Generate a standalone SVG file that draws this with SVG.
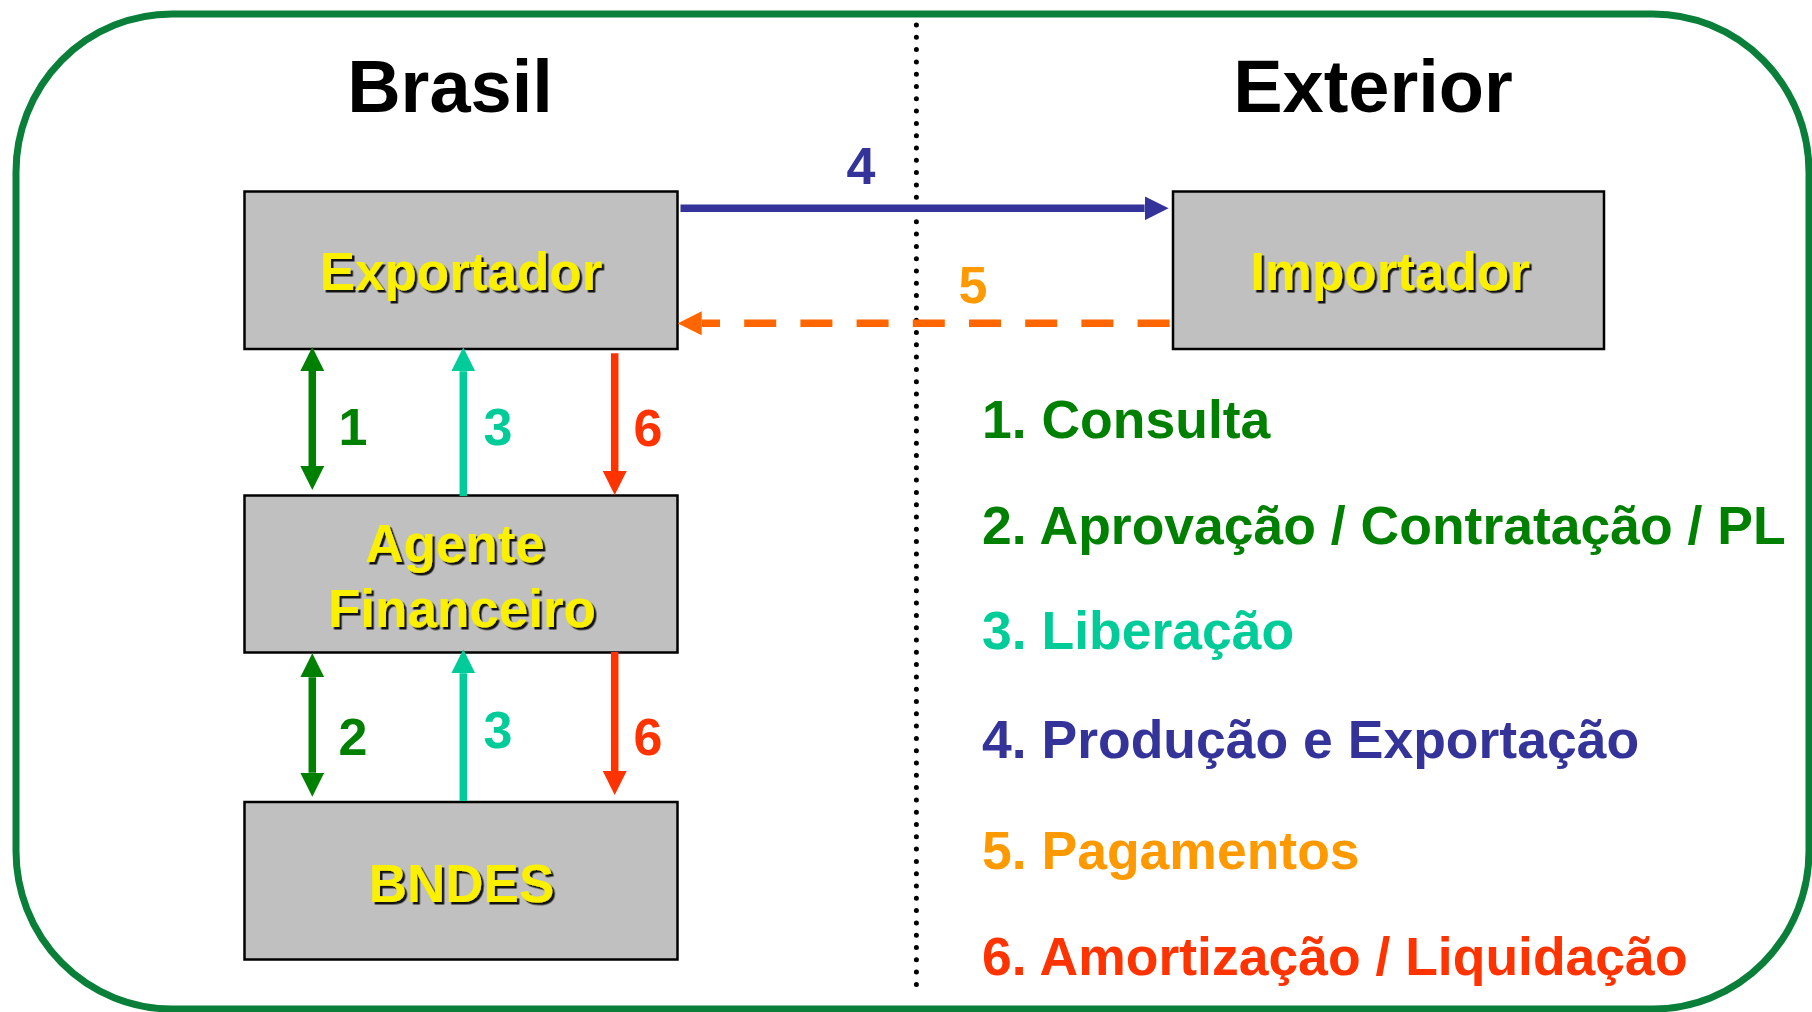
<svg xmlns="http://www.w3.org/2000/svg" width="1812" height="1012" viewBox="0 0 1812 1012">
<style>
.box{fill:#C0C0C0;stroke:#000;stroke-width:2.5}
.nt{font-family:"Liberation Sans",Arial,sans-serif;font-weight:bold;font-size:53px;fill:#FAF000;text-anchor:middle;filter:url(#sh)}
.hd{font-family:"Liberation Sans",Arial,sans-serif;font-weight:bold;font-size:74px;fill:#000;text-anchor:middle}
.lb{font-family:"Liberation Sans",Arial,sans-serif;font-weight:bold;font-size:52px;text-anchor:middle}
.lg{font-family:"Liberation Sans",Arial,sans-serif;font-weight:bold;font-size:53.5px}
.ln{fill:none;stroke-width:7.5}
</style>
<defs>
<filter id="sh" x="-10%" y="-20%" width="130%" height="150%">
<feDropShadow dx="2.5" dy="2.5" stdDeviation="0.7" flood-color="#000" flood-opacity="0.9"/>
</filter>
<marker id="mG" markerUnits="userSpaceOnUse" markerWidth="24" markerHeight="24" refX="0" refY="12" orient="auto-start-reverse"><path d="M0,0 L24,12 L0,24 Z" fill="#008000"/></marker>
<marker id="mT" markerUnits="userSpaceOnUse" markerWidth="24" markerHeight="24" refX="0" refY="12" orient="auto-start-reverse"><path d="M0,0 L24,12 L0,24 Z" fill="#00CC99"/></marker>
<marker id="mR" markerUnits="userSpaceOnUse" markerWidth="24" markerHeight="24" refX="0" refY="12" orient="auto-start-reverse"><path d="M0,0 L24,12 L0,24 Z" fill="#FF3300"/></marker>
<marker id="mB" markerUnits="userSpaceOnUse" markerWidth="24" markerHeight="24" refX="0" refY="12" orient="auto-start-reverse"><path d="M0,0 L24,12 L0,24 Z" fill="#333399"/></marker>
<marker id="mO" markerUnits="userSpaceOnUse" markerWidth="24" markerHeight="24" refX="0" refY="12" orient="auto-start-reverse"><path d="M0,0 L24,12 L0,24 Z" fill="#FF6600"/></marker>
</defs>
<rect width="1812" height="1012" fill="#fff"/>
<rect id="frame" x="16" y="14" width="1793" height="995" rx="156" ry="158" fill="none" stroke="#0A7F3A" stroke-width="7"/>
<line id="divider" x1="916.4" y1="25" x2="916.4" y2="990" stroke="#000" stroke-width="5" stroke-linecap="round" stroke-dasharray="0 12.3"/>
<text class="hd" x="450" y="112">Brasil</text>
<text class="hd" x="1373" y="112">Exterior</text>

<g id="exportador">
<rect class="box" x="244.5" y="191.5" width="433" height="157.5"/>
<text class="nt" x="461" y="290">Exportador</text>
</g>
<g id="importador">
<rect class="box" x="1173" y="191.5" width="431" height="157.5"/>
<text class="nt" x="1390" y="290">Importador</text>
</g>
<g id="agente">
<rect class="box" x="244.5" y="495.5" width="433" height="157"/>
<text class="nt" x="455" y="561.5">Agente</text>
<text class="nt" x="462" y="626.5">Financeiro</text>
</g>
<g id="bndes">
<rect class="box" x="244.5" y="802" width="433" height="157.5"/>
<text class="nt" x="461.5" y="901.5">BNDES</text>
</g>

<g id="connectors">
<line class="ln" stroke="#008000" x1="312.3" y1="371" x2="312.3" y2="466" marker-start="url(#mG)" marker-end="url(#mG)"/>
<line class="ln" stroke="#00CC99" x1="463.3" y1="496" x2="463.3" y2="371.3" marker-end="url(#mT)"/>
<line class="ln" stroke="#FF3300" x1="614.7" y1="353.3" x2="614.7" y2="471" marker-end="url(#mR)"/>
<line class="ln" stroke="#008000" x1="312.3" y1="677.3" x2="312.3" y2="772.7" marker-start="url(#mG)" marker-end="url(#mG)"/>
<line class="ln" stroke="#00CC99" x1="463.3" y1="801" x2="463.3" y2="673.3" marker-end="url(#mT)"/>
<line class="ln" stroke="#FF3300" x1="614.7" y1="652" x2="614.7" y2="771" marker-end="url(#mR)"/>
<line class="ln" stroke="#333399" x1="680.5" y1="208.3" x2="1144.6" y2="208.3" marker-end="url(#mB)"/>
<line class="ln" stroke="#FF6600" stroke-dasharray="32 24.2" x1="1169.6" y1="323.3" x2="701.7" y2="323.3" marker-end="url(#mO)"/>
<text class="lb" x="353" y="445" fill="#008000">1</text>
<text class="lb" x="498" y="445" fill="#00CC99">3</text>
<text class="lb" x="648" y="446" fill="#FF3300">6</text>
<text class="lb" x="353" y="755" fill="#008000">2</text>
<text class="lb" x="498" y="748" fill="#00CC99">3</text>
<text class="lb" x="648" y="755" fill="#FF3300">6</text>
<text class="lb" x="861" y="184" fill="#333399">4</text>
<text class="lb" x="973" y="303" fill="#FF9900">5</text>
</g>

<g id="legend">
<text class="lg" x="982" y="438" fill="#008000">1. Consulta</text>
<text class="lg" x="982" y="544" fill="#008000">2. Aprovação / Contratação / PL</text>
<text class="lg" x="982" y="649" fill="#00CC99">3. Liberação</text>
<text class="lg" x="982" y="758" fill="#333399">4. Produção e Exportação</text>
<text class="lg" x="982" y="869" fill="#FF9900">5. Pagamentos</text>
<text class="lg" x="982" y="975" fill="#FF3300">6. Amortização / Liquidação</text>
</g>
</svg>
